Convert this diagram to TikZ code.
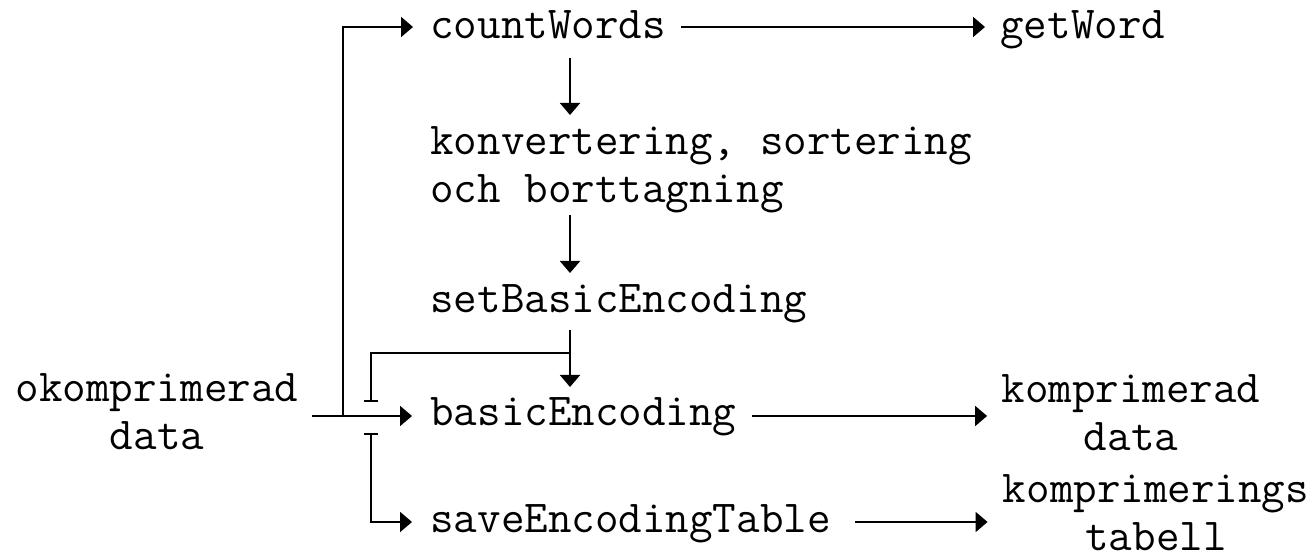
\documentclass[tikz,border=0pt]{standalone}
\usepackage{fontspec}
\usetikzlibrary{arrows.meta,calc}
\begin{document}
\begin{tikzpicture}[x=0.5pt,y=-0.5pt,
  lbl/.style={font=\ttfamily\fontsize{22.86pt}{24pt}\selectfont, inner sep=0pt},
  arr/.style={line width=1pt, -{Triangle[length=6pt,width=10pt]}},
  cutend/.style={line width=1pt, -{Bar[width=7pt]}},
  cutstart/.style={line width=1pt, {Bar[width=7pt]}-{Triangle[length=6pt,width=10pt]}}]
\fill[white] (0,0) rectangle (1312,560);
\useasboundingbox (0,0) rectangle (1312,560);

% column guides for the vertical connectors
\coordinate (col) at (570,0);
\coordinate (cross) at (371,0);

% processing steps (base of a two-line node is its last line)
\node[lbl, anchor=base west] (cw) at (430,39) {countWords};
\node[lbl, anchor=base west] (gw) at (1000,39) {getWord};
\node[lbl, anchor=base west, align=left] (kv) at (430,203) {konvertering, sortering\\och borttagning};
\node[lbl, anchor=base west] (sb) at (430,313) {setBasicEncoding};
\node[lbl, anchor=base west] (be) at (430,426) {basicEncoding};
\node[lbl, anchor=base west] (se) at (430,533) {saveEncodingTable};

% data in and out
\node[lbl, anchor=base, align=center] (in) at (157,450) {okomprimerad\\data};
\node[lbl, anchor=base, align=center] (out) at (1131,451) {komprimerad\\data};
\node[lbl, anchor=base, align=center] (tab) at (1156,551) {komprimerings\\tabell};

% input feeding basicEncoding and branching up to countWords
\draw[arr] ($(in.east |- be.base)+(13,-10)$) -- ($(be.base west)+(-18,-10)$);
\draw[arr] ($(in.east |- be.base)+(44,-10)$) |- ($(cw.base west)+(-17,-12)$);

% main chain
\draw[arr] ($(cw.base east)+(15,-12)$) -- ($(gw.base west)+(-15,-12)$);
\draw[arr] ($(cw.base -| col)+(0,19)$) -- ($(kv.base -| col)+(0,-88)$);
\draw[arr] ($(kv.base -| col)+(0,12)$) -- ($(sb.base -| col)+(0,-40)$);
\draw[arr] ($(sb.base -| col)+(0,17)$) -- ($(be.base -| col)+(0,-39)$);

% setBasicEncoding to saveEncodingTable, broken where it crosses the input line
\draw[cutend] ($(sb.base -| col)+(0,40)$) -| ($(be.base -| cross)+(0,-24)$);
\draw[cutstart] ($(be.base -| cross)+(0,7)$) |- ($(se.base west)+(-18,-11)$);

% outputs
\draw[arr] ($(be.base east)+(15,-10)$) -- ($(out.west |- be.base)+(-14,-10)$);
\draw[arr] ($(se.base east)+(24,-11)$) -- ($(tab.west |- se.base)+(-15,-11)$);
\end{tikzpicture}
\end{document}
